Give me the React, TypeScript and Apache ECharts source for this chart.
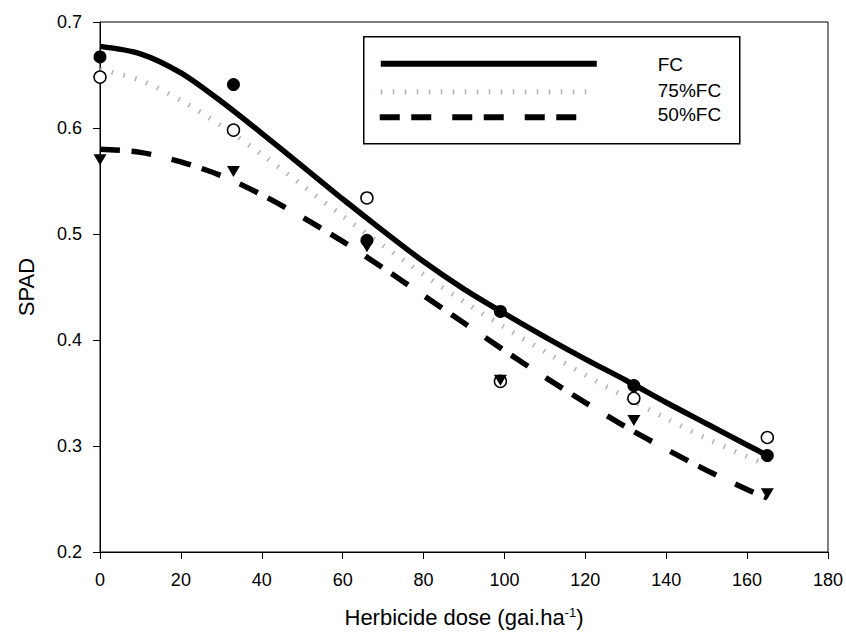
import React, { useEffect, useRef } from "react";
import * as echarts from "echarts";

// Fitted curves
const curveX = [0, 10, 20, 30, 40, 50, 60, 70, 80, 90, 100, 110, 120, 130, 140, 150, 160, 165];
const fcCurve = [0.677, 0.670, 0.652, 0.625, 0.595, 0.564, 0.533, 0.503, 0.474, 0.448, 0.425, 0.403, 0.382, 0.362, 0.341, 0.321, 0.301, 0.291];
const fc75Curve = [0.655, 0.645, 0.626, 0.602, 0.575, 0.546, 0.517, 0.489, 0.462, 0.436, 0.412, 0.389, 0.367, 0.346, 0.326, 0.307, 0.290, 0.282];
const fc50Curve = [0.580, 0.577, 0.568, 0.555, 0.537, 0.516, 0.493, 0.468, 0.442, 0.416, 0.390, 0.365, 0.341, 0.318, 0.297, 0.277, 0.259, 0.251];

// Observed points
const doses = [0, 33, 66, 99, 132, 165];
const fcPts = [0.667, 0.641, 0.494, 0.427, 0.357, 0.291];
const fc75Pts = [0.648, 0.598, 0.534, 0.361, 0.345, 0.308];
const fc50Pts = [0.570, 0.559, 0.488, 0.362, 0.324, 0.255];

const legendNames = ["FC", "75%FC", "50%FC"];

const FONT = "'Liberation Sans', Arial, Helvetica, sans-serif";

export default function App() {
  const ref = useRef<HTMLDivElement>(null);
  useEffect(() => {
    if (!ref.current) return;
    const chart = echarts.init(ref.current, null, { renderer: "svg" });
    const pair = (xs: number[], ys: number[]) => xs.map((x, i) => [x, ys[i]]);
    const dash50 = [20, 11.5, 20, 21];
    const dash75 = [1.5, 10.5];
    const grey = "#aab5b5";
    const option: any = {
      animation: false,
      backgroundColor: "#fff",
      grid: {
        left: 100,
        right: 17,
        top: 22,
        bottom: 90,
        show: true,
        borderColor: "#000",
        borderWidth: 1,
        backgroundColor: "transparent",
      },
      xAxis: {
        type: "value",
        min: 0,
        max: 180,
        interval: 20,
        name: "Herbicide dose (gai.ha{sup|-1})",
        nameLocation: "middle",
        nameGap: 54,
        nameTextStyle: {
          fontFamily: FONT,
          fontSize: 22,
          color: "#000",
          rich: {
            sup: { fontFamily: FONT, fontSize: 13, color: "#000", verticalAlign: "top" },
          },
        },
        axisLine: { show: true, onZero: false, lineStyle: { color: "#000", width: 1 } },
        axisTick: { show: true, inside: false, length: 7, lineStyle: { color: "#000" } },
        axisLabel: { fontFamily: FONT, fontSize: 18, color: "#000", margin: 19 },
        splitLine: { show: false },
      },
      yAxis: {
        type: "value",
        min: 0.2,
        max: 0.7,
        interval: 0.1,
        name: "SPAD",
        nameLocation: "middle",
        nameGap: 63,
        nameTextStyle: { fontFamily: FONT, fontSize: 22, color: "#000" },
        axisLine: { show: true, onZero: false, lineStyle: { color: "#000", width: 1 } },
        axisTick: { show: true, inside: false, length: 7, lineStyle: { color: "#000" } },
        axisLabel: {
          fontFamily: FONT,
          fontSize: 18,
          color: "#000",
          margin: 18,
          formatter: (v: number) => v.toFixed(1),
        },
        splitLine: { show: false },
      },
      series: [
        {
          name: legendNames[1],
          type: "line",
          data: pair(curveX, fc75Curve),
          smooth: 0.3,
          showSymbol: false,
          symbol: "none",
          lineStyle: { color: grey, width: 5, type: dash75, cap: "butt" },
          z: 2,
        },
        {
          name: legendNames[2],
          type: "line",
          data: pair(curveX, fc50Curve),
          smooth: 0.3,
          showSymbol: false,
          symbol: "none",
          lineStyle: { color: "#000", width: 5.5, type: dash50, cap: "butt" },
          z: 3,
        },
        {
          name: legendNames[0],
          type: "line",
          data: pair(curveX, fcCurve),
          smooth: 0.3,
          showSymbol: false,
          symbol: "none",
          lineStyle: { color: "#000", width: 5.5, type: "solid" },
          z: 4,
        },
        {
          name: legendNames[0] + " obs",
          type: "scatter",
          data: pair(doses, fcPts),
          symbol: "circle",
          symbolSize: 13,
          itemStyle: { color: "#000", opacity: 1 },
          z: 5,
        },
        {
          name: legendNames[1] + " obs",
          type: "scatter",
          data: pair(doses, fc75Pts),
          symbol: "circle",
          symbolSize: 12,
          itemStyle: { color: "#fff", borderColor: "#000", borderWidth: 1.5, opacity: 1 },
          z: 6,
        },
        {
          name: legendNames[2] + " obs",
          type: "scatter",
          data: pair(doses, fc50Pts),
          symbol: "triangle",
          symbolRotate: 180,
          symbolSize: [13, 11],
          itemStyle: { color: "#000", opacity: 1 },
          z: 7,
        },
      ],
      graphic: [
        {
          type: "group",
          left: 363,
          top: 36,
          children: [
            {
              type: "rect",
              shape: { x: 0, y: 0, width: 376, height: 107 },
              style: { fill: "#fff", stroke: "#000", lineWidth: 1.5 },
            },
            {
              type: "line",
              shape: { x1: 17, y1: 27, x2: 233, y2: 27 },
              style: { stroke: "#000", lineWidth: 6 },
            },
            {
              type: "line",
              shape: { x1: 17, y1: 55, x2: 233, y2: 55 },
              style: { stroke: grey, lineWidth: 5, lineDash: dash75 },
            },
            {
              type: "line",
              shape: { x1: 16, y1: 80.5, x2: 233, y2: 80.5 },
              style: { stroke: "#000", lineWidth: 6, lineDash: dash50 },
            },
            {
              type: "text",
              x: 294,
              y: 28,
              style: { text: legendNames[0], font: `19px ${FONT}`, fill: "#000", verticalAlign: "middle" },
            },
            {
              type: "text",
              x: 294,
              y: 54,
              style: { text: legendNames[1], font: `19px ${FONT}`, fill: "#000", verticalAlign: "middle" },
            },
            {
              type: "text",
              x: 294,
              y: 78,
              style: { text: legendNames[2], font: `19px ${FONT}`, fill: "#000", verticalAlign: "middle" },
            },
          ],
        },
      ],
    };
    chart.setOption(option);
    return () => chart.dispose();
  }, []);
  return (
    <div
      ref={ref}
      style={{ position: "fixed", left: 0, top: 0, width: 846, height: 642, background: "#fff" }}
    />
  );
}
